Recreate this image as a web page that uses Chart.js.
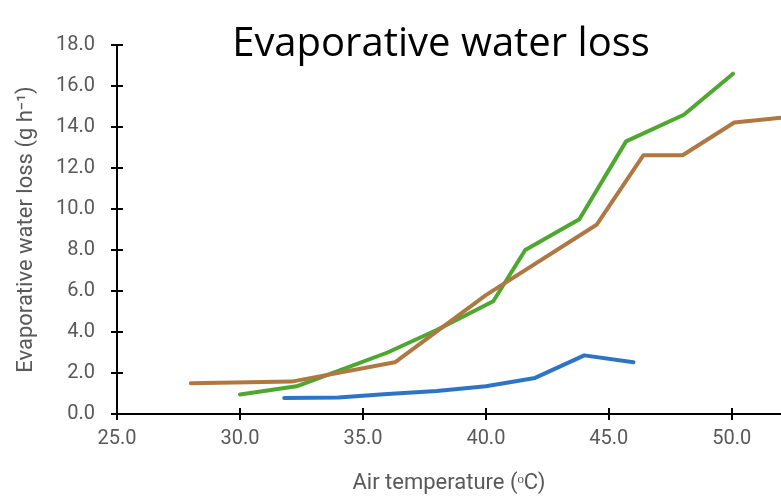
<!DOCTYPE html>
<html>
<head>
<meta charset="utf-8">
<script src="https://cdn.jsdelivr.net/npm/chart.js@4/dist/chart.umd.min.js"></script>
<style>
  html, body { margin: 0; padding: 0; background: #fff; }
  #wrap { width: 781px; height: 497px; }
</style>
</head>
<body>
<div id="wrap"><canvas id="grafico"></canvas></div>
<script>
// Dados (temperatura do ar x perda de água)
const TITULO = 'Evaporative water loss';
const TITULO_X = 'Air temperature (\u1D52C)';
const TITULO_Y = 'Evaporative water loss (g h\u207B\u00B9)';

const azulX = [31.8, 34.0, 36.0, 38.0, 40.0, 42.0, 44.0, 46.0];
const azulY = [0.78, 0.80, 0.98, 1.12, 1.35, 1.76, 2.86, 2.52];

const marromX = [28.0, 32.1, 36.3, 40.0, 44.5, 46.4, 48.0, 50.1, 52.0];
const marromY = [1.50, 1.58, 2.52, 5.80, 9.23, 12.62, 12.62, 14.22, 14.45];

const verdeX = [30.0, 32.3, 34.0, 36.0, 38.0, 40.3, 41.6, 43.8, 45.7, 48.05, 50.05];
const verdeY = [0.95, 1.35, 2.10, 3.00, 4.10, 5.50, 8.00, 9.50, 13.30, 14.60, 16.60];

const X_MIN = 25, X_MAX = 52, X_PASSO = 5;
const Y_MIN = 0, Y_MAX = 18, Y_PASSO = 2;

const CINZA = '#595959';

function pontos(xs, ys) {
    return xs.map((x, i) => ({ x: x, y: ys[i] }));
}

function serie(xs, ys, cor) {
    return {
        data: pontos(xs, ys),
        borderColor: cor,
        backgroundColor: cor,
        borderWidth: 4,
        pointRadius: 0,
        tension: 0,
        borderCapStyle: 'round',
        borderJoinStyle: 'round',
        showLine: true
    };
}

// Título desenhado por cima da área do gráfico (como no original)
const pluginTitulo = {
    id: 'tituloSobreposto',
    afterDraw(chart) {
        const ctx = chart.ctx;
        const a = chart.chartArea;
        ctx.save();
        ctx.font = '40px "Open Sans"';
        ctx.fillStyle = '#000';
        ctx.textAlign = 'center';
        ctx.textBaseline = 'alphabetic';
        ctx.fillText(TITULO, (a.left + a.right) / 2 - 8, a.top + 11);
        ctx.restore();
    }
};

// Marcas de escala cruzando o eixo (parte interna)
const pluginMarcas = {
    id: 'marcasInternas',
    afterDraw(chart) {
        const ctx = chart.ctx;
        const a = chart.chartArea;
        const sx = chart.scales.x, sy = chart.scales.y;
        ctx.save();
        ctx.strokeStyle = '#000';
        ctx.lineWidth = 2;
        ctx.beginPath();
        sy.ticks.forEach(t => {
            const y = Math.round(sy.getPixelForValue(t.value));
            ctx.moveTo(a.left, y);
            ctx.lineTo(a.left + 6, y);
        });
        sx.ticks.forEach(t => {
            const x = Math.round(sx.getPixelForValue(t.value));
            ctx.moveTo(x, a.bottom);
            ctx.lineTo(x, a.bottom - 6);
        });
        ctx.stroke();
        ctx.restore();
    }
};

const ctx = document.getElementById('grafico').getContext('2d');
const grafico = new Chart(ctx, {
    type: 'scatter',
    data: {
        datasets: [
            serie(marromX, marromY, '#AF7842'),
            serie(verdeX, verdeY, '#4EA72E'),
            serie(azulX, azulY, '#2E74C6')
        ]
    },
    options: {
        responsive: true,
        maintainAspectRatio: false,
        animation: false,
        layout: { padding: { top: 45, right: 0, left: 0, bottom: 0 } },
        plugins: {
            legend: { display: false },
            title: { display: false },
            tooltip: { enabled: false }
        },
        scales: {
            x: {
                type: 'linear',
                min: X_MIN,
                max: X_MAX,
                afterFit: s => { s.height = 83; },
                afterBuildTicks: s => {
                    s.ticks = s.ticks.filter(t => t.value <= 50);
                },
                border: { display: true, color: '#000', width: 2 },
                grid: { drawOnChartArea: false, color: '#000', lineWidth: 2, tickLength: 6 },
                ticks: {
                    stepSize: X_PASSO,
                    color: CINZA,
                    font: { family: 'Roboto', size: 20 },
                    padding: 7,
                    maxRotation: 0,
                    callback: v => Number(v).toFixed(1)
                },
                title: {
                    display: true,
                    text: TITULO_X,
                    color: CINZA,
                    font: { family: 'Roboto', size: 22 },
                    padding: { top: 0, bottom: 0 }
                }
            },
            y: {
                min: Y_MIN,
                max: Y_MAX,
                afterFit: s => { s.width = 117; },
                border: { display: true, color: '#000', width: 2 },
                grid: { drawOnChartArea: false, color: '#000', lineWidth: 2, tickLength: 6 },
                ticks: {
                    stepSize: Y_PASSO,
                    color: CINZA,
                    font: { family: 'Roboto', size: 20 },
                    padding: 16,
                    callback: v => Number(v).toFixed(1)
                },
                title: {
                    display: true,
                    text: TITULO_Y,
                    color: CINZA,
                    font: { family: 'Roboto', size: 22 },
                    padding: { top: 13, bottom: 0 }
                }
            }
        }
    },
    plugins: [pluginTitulo, pluginMarcas]
});
</script>
</body>
</html>
